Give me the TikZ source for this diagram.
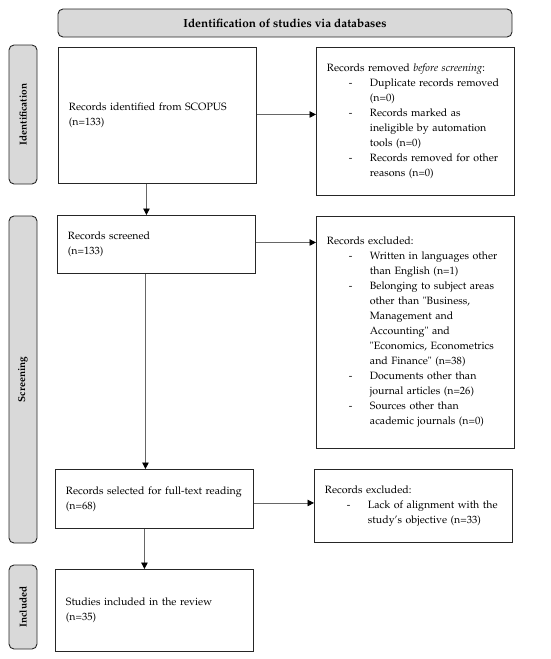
\documentclass[tikz,border=0pt]{standalone}
\usepackage[T1]{fontenc}
\usepackage{mathpazo}
\usetikzlibrary{arrows.meta,calc}
\tikzset{
  box/.style={draw=black!85,line width=0.9pt,fill=white,inner xsep=10.5pt,inner ysep=0pt,
    align=left,anchor=north west,font=\fontsize{10.6}{15}\selectfont},
  phase/.style={draw=black!85,line width=0.9pt,fill=black!15,rounded corners=5pt,
    inner sep=0pt,font=\bfseries\fontsize{10}{12}\selectfont},
  conn/.style={draw=black!60,line width=0.7pt,-{Triangle[length=6.5pt,width=6.5pt,color=black]}},
}
\newcommand{\oneline}[1]{\mbox{#1}}
\newcommand{\itm}[1]{\mbox{\hspace*{22pt}\makebox[21pt][l]{-}#1}}
\newcommand{\cnt}[1]{\mbox{\hspace*{43pt}#1}}
\begin{document}
\begin{tikzpicture}[x=1pt,y=-1pt]
\useasboundingbox (0,0) rectangle (550,659);
% header
\node[phase,minimum width=454pt,minimum height=28pt,font=\bfseries\fontsize{11.8}{14}\selectfont] (head) at (285,23) {Identification of studies via databases};
% phase labels
\node[phase,rotate=90,minimum width=139pt,minimum height=28pt] (pid) at (23,114.5) {Identification};
\node[phase,rotate=90,minimum width=327pt,minimum height=28pt] (psc) at (23,379.5) {Screening};
\node[phase,rotate=90,minimum width=84pt,minimum height=28pt] (pin) at (23,607) {Included};
% main boxes
\node[box,text width=177pt,minimum width=198pt,minimum height=136pt] (b1) at (58,47)
  {\oneline{Records identified from SCOPUS}\\(n=133)};
\node[box,text width=177pt,minimum width=198pt,minimum height=58pt] (b2) at (57,215)
  {Records screened\\(n=133)};
\node[box,text width=177pt,minimum width=198pt,minimum height=59pt] (b3) at (55,469)
  {\oneline{Records selected for full-text reading}\\(n=68)};
\node[box,text width=177pt,minimum width=198pt,minimum height=82pt] (b4) at (55,569)
  {\oneline{Studies included in the review}\\(n=35)};
% side boxes
\node[box,text width=177pt,minimum width=198pt,minimum height=148pt] (r1) at (316,47)
  {\oneline{Records removed \textit{before screening}:}\\
   \itm{Duplicate records removed}\\
   \cnt{(n=0)}\\
   \itm{Records marked as}\\
   \cnt{ineligible by automation}\\
   \cnt{tools (n=0)}\\
   \itm{Records removed for other}\\
   \cnt{reasons (n=0)}};
\node[box,text width=177pt,minimum width=198pt,minimum height=232pt] (r2) at (316,216)
  {Records excluded:\\
   \itm{Written in languages other}\\
   \cnt{than English (n=1)}\\
   \itm{Belonging to subject areas}\\
   \cnt{other than "Business,}\\
   \cnt{Management and}\\
   \cnt{Accounting" and}\\
   \cnt{"Economics, Econometrics}\\
   \cnt{and Finance" (n=38)}\\
   \itm{Documents other than}\\
   \cnt{journal articles (n=26)}\\
   \itm{Sources other than}\\
   \cnt{academic journals (n=0)}};
\node[box,text width=177pt,minimum width=198pt,minimum height=73pt] (r3) at (314,469)
  {Records excluded:\\
   \itm{Lack of alignment with the}\\
   \cnt{study's objective (n=33)}};
% connectors
\draw[conn] ([yshift=1pt]b1.east) -- ([yshift=1pt]b1.east -| r1.west);
\draw[conn] ([yshift=2pt]b2.east) -- ([yshift=2pt]b2.east -| r2.west);
\draw[conn] ([yshift=-4pt]b3.east) -- ([yshift=-4pt]b3.east -| r3.west);
\draw[conn] ([xshift=-11pt]b1.south) -- ([xshift=-11pt]b1.south |- b2.north);
\draw[conn] ([xshift=-11pt]b2.south) -- ([xshift=-11pt]b2.south |- b3.north);
\draw[conn] ([xshift=-10pt]b3.south) -- ([xshift=-10pt]b3.south |- b4.north);
\end{tikzpicture}
\end{document}
